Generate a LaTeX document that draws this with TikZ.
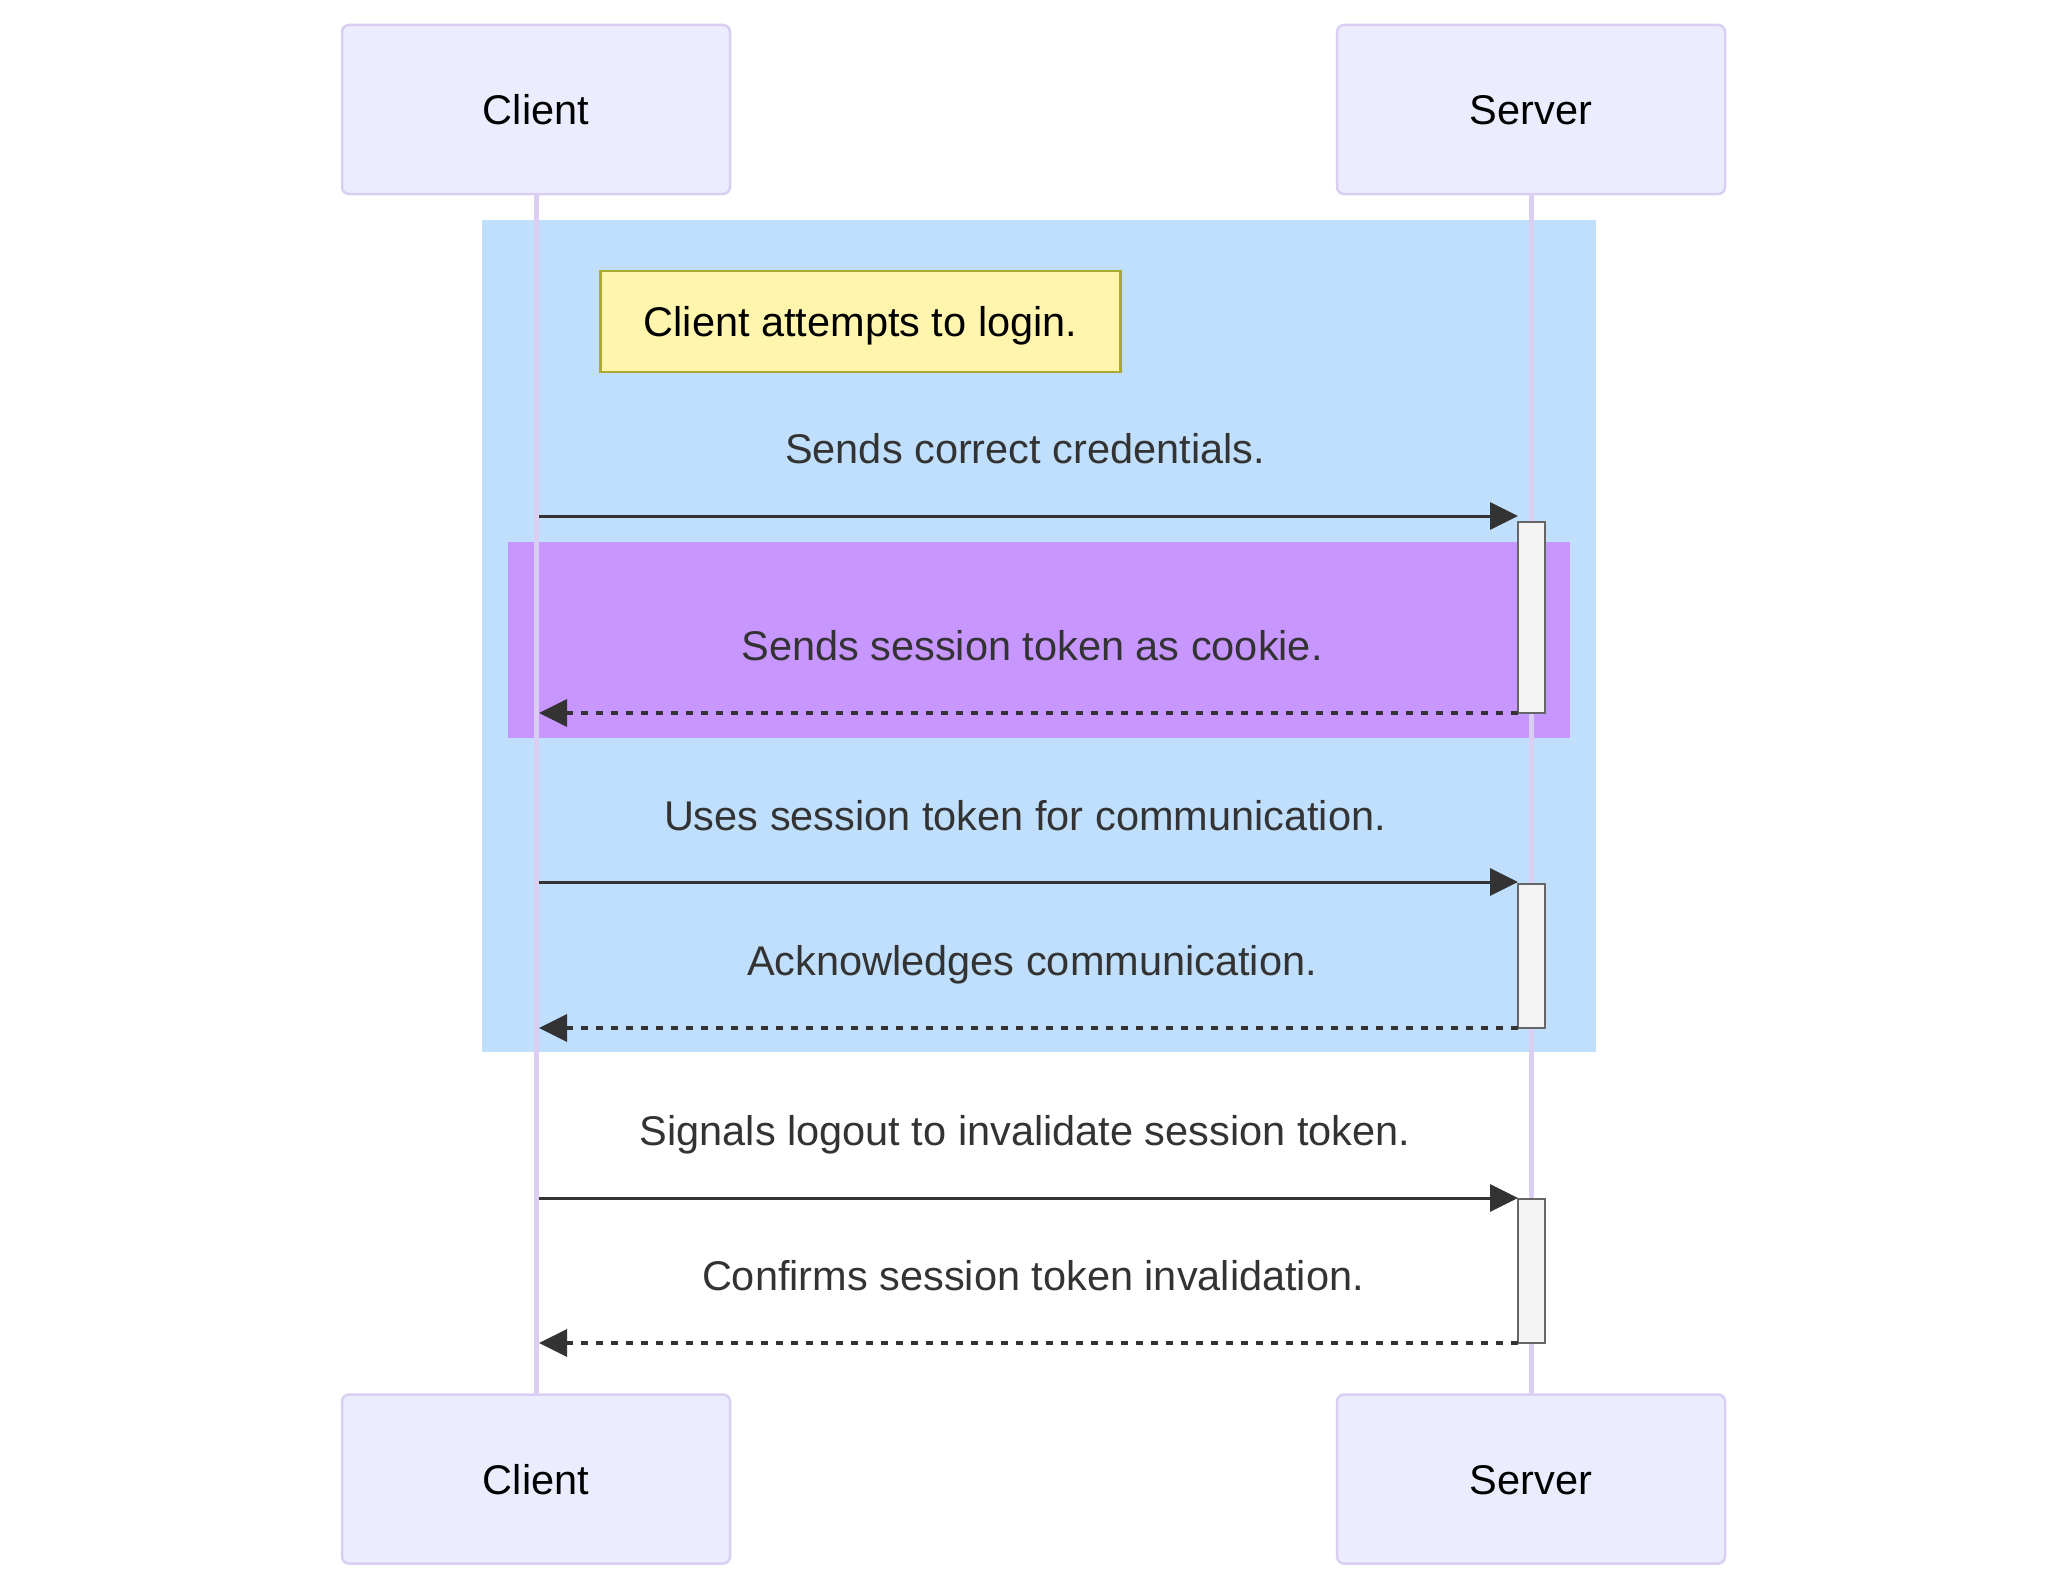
\documentclass[tikz,border=0pt]{standalone}
\usepackage{fontspec}
\setmainfont{Liberation Sans}
\usetikzlibrary{arrows.meta}
\definecolor{actorfill}{HTML}{ECECFF}
\definecolor{actorline}{HTML}{DACEF3}
\definecolor{bluebg}{RGB}{191,223,253}
\definecolor{purplebg}{RGB}{200,150,255}
\definecolor{notefill}{HTML}{FFF5AD}
\definecolor{noteline}{HTML}{AAAA33}
\definecolor{msgcol}{HTML}{333333}
\definecolor{actfill}{HTML}{F4F4F4}
\definecolor{actline}{HTML}{666666}
\begin{document}
\begin{tikzpicture}[x=1pt,y=-1pt,
  actor/.style={draw=actorline, fill=actorfill, line width=2.5pt, rounded corners=7pt,
    minimum width=388pt, minimum height=169pt, inner sep=0pt, outer sep=0pt,
    text height=30pt, text depth=0pt,
    font=\fontsize{41.5}{50}\selectfont, text=black},
  lifeline/.style={draw=actorline, line width=5pt},
  notebox/.style={draw=noteline, fill=notefill, line width=2.5pt, minimum width=520pt,
    minimum height=101pt, inner sep=0pt, text height=30pt, text depth=0pt,
    font=\fontsize{41.5}{50}\selectfont, text=black},
  activation/.style={draw=actline, fill=actfill, line width=2.5pt, minimum width=27pt,
    inner sep=0pt, outer sep=0pt},
  msglabel/.style={font=\fontsize{41.5}{50}\selectfont, text=msgcol, anchor=base, inner sep=0pt},
  solidmsg/.style={draw=msgcol, line width=3pt, -{Triangle[length=28pt,width=27pt]}},
  dottedmsg/.style={draw=msgcol, line width=3.5pt, dash pattern=on 7pt off 8pt,
    -{Triangle[length=28pt,width=27pt]}},
]
\useasboundingbox (0,0) rectangle (2068,1592);
\fill[white] (0,0) rectangle (2068,1592);

% background regions
\fill[bluebg] (482,220) rectangle (1596,1052);
\fill[purplebg] (508,542) rectangle (1570,738);

% actors
\node[actor] (ctop) at (536,109.5) {Client};
\node[actor] (stop) at (1531,109.5) {Server};
\node[actor] (cbot) at (536,1479) {Client};
\node[actor] (sbot) at (1531,1479) {Server};

% lifelines
\draw[lifeline] (ctop.south) -- (cbot.north);
\draw[lifeline] (stop.south) -- (sbot.north);

% note
\node[notebox] (note) at (860.5,321.5) {Client attempts to login.};

% activations
\node[activation, minimum height=191pt] (a1) at (1531.5,617.5) {};
\node[activation, minimum height=144pt] (a2) at (1531.5,956) {};
\node[activation, minimum height=144pt] (a3) at (1531.5,1271) {};

% endpoints
\coordinate (c1) at (539,516);   \coordinate (s1) at (1518,516);
\coordinate (c2) at (539,712);
\coordinate (c3) at (539,882);   \coordinate (s3) at (1518,882);
\coordinate (c4) at (539,1027);
\coordinate (c5) at (539,1198);  \coordinate (s5) at (1518,1198);
\coordinate (c6) at (539,1343);

% messages
\node[msglabel] (t1) at (1025,463) {Sends correct credentials.};
\draw[solidmsg] (c1) -- (s1);
\node[msglabel] (t2) at (1032,660) {Sends session token as cookie.};
\draw[dottedmsg] (a1.south west) -- (c2 |- a1.south west);
\node[msglabel] (t3) at (1025,830) {Uses session token for communication.};
\draw[solidmsg] (c3) -- (s3);
\node[msglabel] (t4) at (1032,975) {Acknowledges communication.};
\draw[dottedmsg] (a2.south west) -- (c4 |- a2.south west);
\node[msglabel] (t5) at (1025,1145) {Signals logout to invalidate session token.};
\draw[solidmsg] (c5) -- (s5);
\node[msglabel] (t6) at (1033,1290) {Confirms session token invalidation.};
\draw[dottedmsg] (a3.south west) -- (c6 |- a3.south west);
\end{tikzpicture}
\end{document}
